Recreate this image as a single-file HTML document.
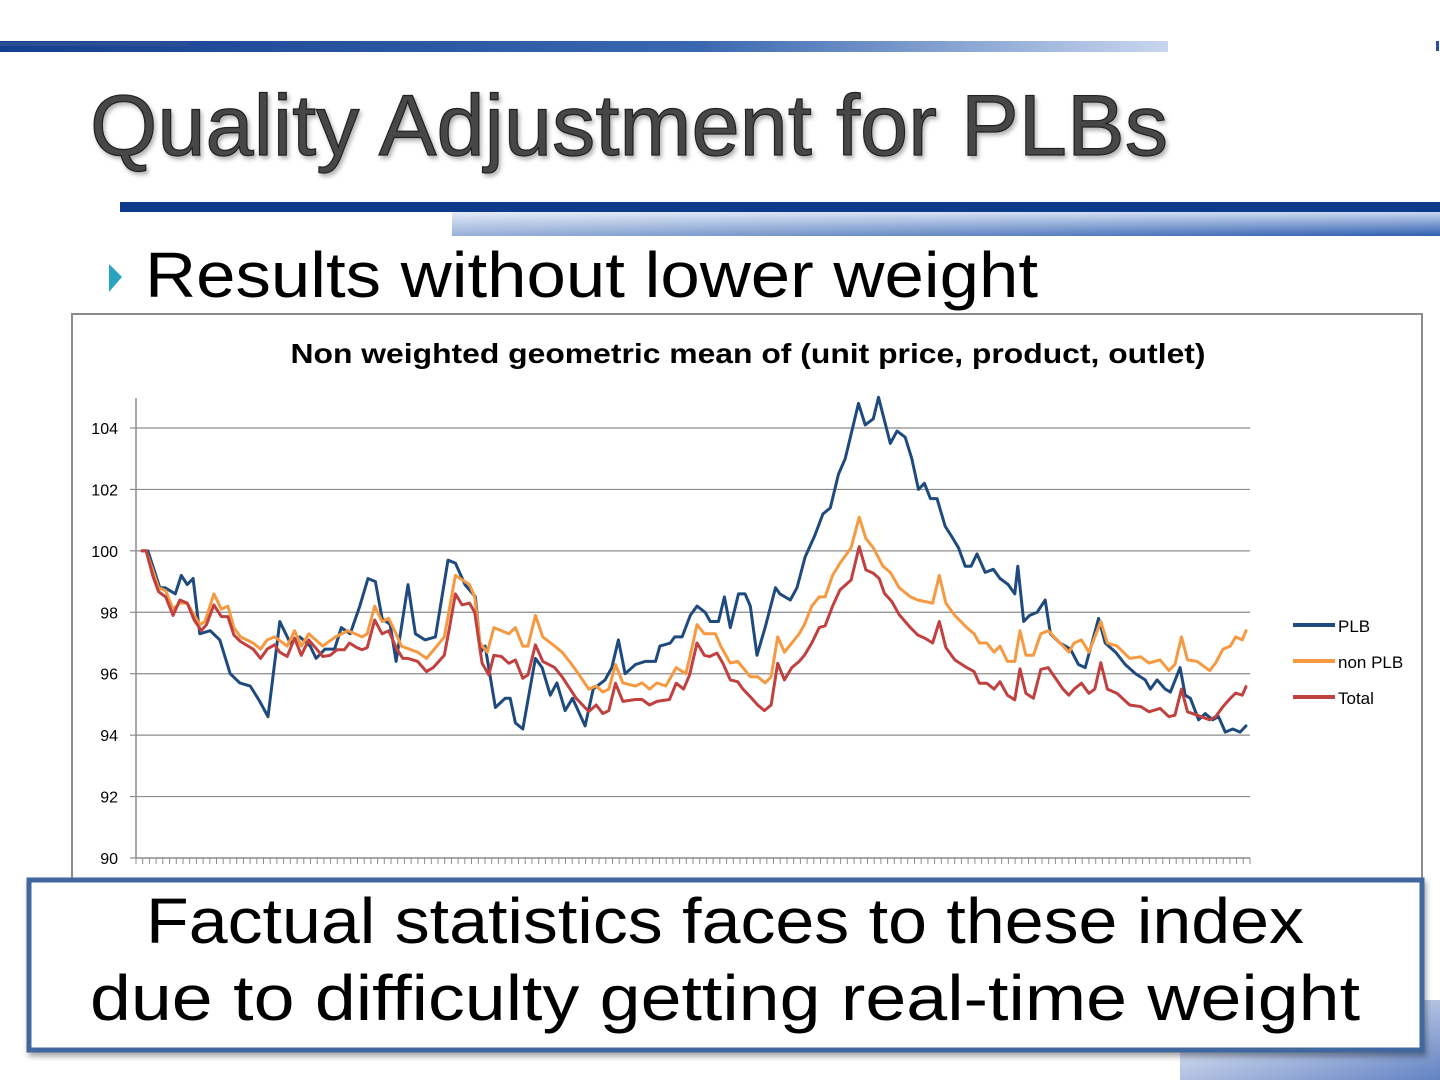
<!DOCTYPE html>
<html><head><meta charset="utf-8"><style>
html,body{margin:0;padding:0;background:#fff;}
svg{display:block;font-family:"Liberation Sans",sans-serif;}
</style></head><body>
<svg id="page" width="1440" height="1080" viewBox="0 0 1440 1080" xmlns="http://www.w3.org/2000/svg">
<defs>
<linearGradient id="topbar" x1="0" y1="0" x2="1" y2="0">
<stop offset="0" stop-color="#143f8e"/><stop offset="0.6" stop-color="#3a68b0"/><stop offset="1" stop-color="#c8d6ee"/></linearGradient>
<linearGradient id="band" x1="0" y1="0" x2="0" y2="1">
<stop offset="0" stop-color="#c9d7ef"/><stop offset="1" stop-color="#2f5fb0"/></linearGradient>
<linearGradient id="bandH" x1="0" y1="0" x2="1" y2="0">
<stop offset="0" stop-color="#ffffff" stop-opacity="0.5"/><stop offset="1" stop-color="#ffffff" stop-opacity="0"/></linearGradient>
<linearGradient id="corner" x1="0" y1="0" x2="1" y2="1">
<stop offset="0" stop-color="#ffffff"/><stop offset="1" stop-color="#3b63b4"/></linearGradient>
<filter id="sh" x="-5%" y="-10%" width="110%" height="130%"><feDropShadow dx="2" dy="4" stdDeviation="3" flood-color="#000" flood-opacity="0.35"/></filter>
<filter id="tsh"><feDropShadow dx="2" dy="3" stdDeviation="2" flood-color="#000" flood-opacity="0.3"/></filter>
</defs>

<rect x="1180" y="1000" width="260" height="80" fill="url(#corner)" opacity="0.8"/>

<rect x="0" y="41" width="1168" height="11" fill="url(#topbar)"/>
<rect x="0" y="42" width="188" height="4" fill="#2a4f94"/>
<rect x="1436" y="41" width="3" height="10" fill="#2a4f94"/>

<text x="90" y="155" font-size="86" fill="#474747" stroke="#222" stroke-width="1.2" textLength="1078" lengthAdjust="spacingAndGlyphs" filter="url(#tsh)">Quality Adjustment for PLBs</text>

<rect x="120" y="202" width="1320" height="10" fill="#0e3a8c"/>
<rect x="452" y="212" width="988" height="24" fill="url(#band)"/>
<rect x="452" y="212" width="988" height="24" fill="url(#bandH)"/>

<polygon points="109,264 122,277 109,292" fill="#2aa3c0"/>
<text x="145" y="297" font-size="64" fill="#000" textLength="893" lengthAdjust="spacingAndGlyphs">Results without lower weight</text>

<rect x="72" y="314" width="1350" height="600" fill="#fff" stroke="#8c8c8c" stroke-width="2"/>
<text x="748" y="363" font-size="28" font-weight="bold" text-anchor="middle" fill="#000" textLength="915" lengthAdjust="spacingAndGlyphs">Non weighted geometric mean of (unit price, product, outlet)</text>
<g id="chart"></g>

<g>
<g><line x1="1293" y1="625" x2="1335" y2="625" stroke="#1f4a7e" stroke-width="4"/><text x="1338" y="632" font-size="17" fill="#000">PLB</text></g>
<g><line x1="1293" y1="661" x2="1335" y2="661" stroke="#f59a42" stroke-width="4"/><text x="1338" y="668" font-size="17" fill="#000">non PLB</text></g>
<g><line x1="1293" y1="697" x2="1335" y2="697" stroke="#c0413f" stroke-width="4"/><text x="1338" y="704" font-size="17" fill="#000">Total</text></g>
</g>

<g filter="url(#sh)">
<rect x="29" y="880" width="1393" height="170" fill="#fff" stroke="#41679f" stroke-width="5"/>
</g>
<text x="725" y="943" font-size="64" text-anchor="middle" fill="#000" textLength="1158" lengthAdjust="spacingAndGlyphs">Factual statistics faces to these index</text>
<text x="725" y="1020" font-size="64" text-anchor="middle" fill="#000" textLength="1270" lengthAdjust="spacingAndGlyphs">due to difficulty getting real-time weight</text>
</svg>
<script>
const yTicks=[90,92,94,96,98,100,102,104];
const tickCount=166;
const plbT=[0,0.8,2.4,3.1,4.5,5.3,6.1,6.9,7.8,9.2,10.5,11.9,13.2,14.6,15.9,17,18.6,20,21.3,22.7,23.5,24.7,26,26.9,28.1,29.4,30.5,31.5,32.4,33.5,34.3,35.9,36.9,38.2,39.6,41.3,42.3,43.6,45,45.7,46.3,47.7,49,49.7,50.4,51.4,53.1,54,55.1,56,57.1,58.1,59.8,60.9,62.5,63.4,64.3,65.2,66.6,67.9,69.3,69.9,71.3,71.9,72.9,74,74.9,76,76.7,77.8,78.6,79.4,80.5,81.4,82.1,83,84.1,85.5,86.1,87.5,88.4,89.5,90.8,91.9,92.9,94,94.9,96.7,97.6,98.7,99.4,101,101.9,103,103.9,104.8,105.6,106.4,107.3,108.4,109.2,110.2,111.1,111.9,112.7,113.8,114.9,115.8,116.9,117.8,118.2,119,119.8,120.8,121.9,122.6,123.9,125.3,126.4,127.3,129.1,130,131.4,132.7,134.1,135.4,136.1,137,138.1,138.8,140.1,140.8,141.5,142.6,143.5,144.5,145.3,146.2,147.2,148.2,149];
const plbV=[100,100,98.8,98.8,98.6,99.2,98.9,99.1,97.3,97.4,97.1,96.0,95.7,95.6,95.1,94.6,97.7,97.0,97.2,96.9,96.5,96.8,96.8,97.5,97.3,98.2,99.1,99.0,97.8,97.6,96.4,98.9,97.3,97.1,97.2,99.7,99.6,98.9,98.5,96.7,96.9,94.9,95.2,95.2,94.4,94.2,96.5,96.2,95.3,95.7,94.8,95.2,94.3,95.5,95.8,96.2,97.1,96.0,96.3,96.4,96.4,96.9,97.0,97.2,97.2,97.9,98.2,98.0,97.7,97.7,98.5,97.5,98.6,98.6,98.2,96.6,97.5,98.8,98.6,98.4,98.8,99.8,100.5,101.2,101.4,102.5,103.0,104.8,104.1,104.3,105.0,103.5,103.9,103.7,103.0,102.0,102.2,101.7,101.7,100.8,100.5,100.1,99.5,99.5,99.9,99.3,99.4,99.1,98.9,98.6,99.5,97.7,97.9,98.0,98.4,97.3,97.0,96.8,96.3,96.2,97.8,97.0,96.7,96.3,96.0,95.8,95.5,95.8,95.5,95.4,96.2,95.3,95.2,94.5,94.7,94.5,94.6,94.1,94.2,94.1,94.3];
const nonT=[0,0.55,2.24,3.2,4.2,5.1,6.1,7.8,8.5,9.7,10.7,11.6,12.4,13.3,15,16,16.9,17.9,19.6,20.6,21.5,22.5,24.4,26.1,27.8,29.7,30.4,31.4,32.4,33.3,34.3,35,37.2,38.4,39.8,40.8,42.3,44.2,44.9,45.6,46.6,47.5,49.5,50.4,51.4,52.1,53.1,54.1,55.7,56.7,57.7,58.6,60.3,61.3,62.2,63,63.9,64.9,66.6,67.5,68.5,69.5,70.7,72.1,73.4,73.9,74.9,75.9,77.4,78.1,79.4,80.4,81.1,82.1,83.1,84.1,84.9,85.8,86.7,87.7,88.7,89.4,90.4,91.4,92.2,93.2,94.2,95.7,96.8,97.7,98.7,100,101,102.2,103.7,104.7,106.7,107.6,108.5,109.7,111.3,112.3,113,114,115,115.8,116.8,117.8,118.5,119.3,120.3,121.3,122.3,124.3,125.1,125.8,126.8,127.8,129.4,130.3,131.6,133.3,134.8,135.9,137.4,138.6,139.4,140.3,141.1,142.4,144.1,144.9,145.9,146.9,147.6,148.5,149];
const nonV=[100,100,98.8,98.7,98.1,98.3,98.3,97.6,97.7,98.6,98.1,98.2,97.5,97.2,97.0,96.8,97.1,97.2,96.9,97.4,96.9,97.3,96.9,97.2,97.4,97.2,97.3,98.2,97.7,97.8,97.3,96.9,96.7,96.5,96.9,97.2,99.2,98.9,98.5,97.0,96.7,97.5,97.3,97.5,96.9,96.9,97.9,97.2,96.9,96.7,96.4,96.1,95.5,95.6,95.4,95.5,96.3,95.7,95.6,95.7,95.5,95.7,95.6,96.2,96.0,96.5,97.6,97.3,97.3,96.9,96.35,96.4,96.2,95.9,95.9,95.7,95.9,97.2,96.7,97.0,97.3,97.6,98.2,98.5,98.5,99.2,99.6,100.1,101.1,100.4,100.1,99.5,99.3,98.8,98.5,98.4,98.3,99.2,98.3,97.9,97.5,97.3,97.0,97.0,96.7,96.9,96.4,96.4,97.4,96.6,96.6,97.3,97.4,96.9,96.7,97.0,97.1,96.7,97.7,97.0,96.9,96.5,96.55,96.35,96.45,96.1,96.3,97.2,96.45,96.4,96.1,96.35,96.8,96.9,97.2,97.1,97.4];
const totT=[0,0.55,1.5,2.24,3.2,4.2,5.1,6.1,7.05,8,8.7,9.7,10.7,11.6,12.4,13.3,15,16,16.9,17.9,18.6,19.6,20.6,21.5,22.5,23.4,24.4,25.4,26.3,27.3,28,29,29.7,30.4,31.4,32.4,33.3,34.3,35.2,35.9,37.2,38.4,39.3,40.8,41.5,42.3,43.2,44.2,44.9,45.9,46.8,47.5,48.5,49.5,50.4,51.4,52.1,53.1,54.1,55.7,56.7,57.7,58.6,60.3,61.3,62.2,63,63.9,64.9,66.6,67.5,68.5,69.5,71.2,72.1,73.1,73.9,74.9,75.9,76.6,77.6,78.4,79.4,80.4,81.1,82.1,83.1,84,84.9,85.8,86.7,87.7,88.7,89.4,90.4,91.4,92.2,93.2,94.2,95.7,96.8,97.7,98.7,99.5,100.2,101.2,102.2,103.7,104.7,105.7,106.7,107.6,108.5,109.7,111.3,112.3,113,114,115,115.8,116.8,117.8,118.5,119.3,120.3,121.3,122.3,124.3,125.1,125.8,126.8,127.8,128.6,129.4,130.3,131.6,133.3,134.8,135.9,137.4,138.6,139.4,140.3,141.1,142.4,144.1,144.9,145.9,146.9,147.6,148.5,149];
const totV=[100,100,99.16,98.67,98.5,97.9,98.4,98.3,97.75,97.4,97.6,98.24,97.86,97.86,97.26,97.05,96.8,96.5,96.8,96.94,96.7,96.56,97.16,96.6,97.1,96.85,96.56,96.6,96.78,96.78,97.0,96.85,96.78,96.85,97.75,97.3,97.4,96.85,96.5,96.5,96.4,96.07,96.2,96.6,97.5,98.6,98.24,98.3,98.0,96.34,95.96,96.6,96.56,96.34,96.45,95.85,95.96,96.94,96.4,96.2,95.9,95.53,95.2,94.77,94.98,94.7,94.8,95.69,95.1,95.16,95.16,94.98,95.1,95.16,95.69,95.5,95.96,97.0,96.6,96.56,96.67,96.34,95.8,95.74,95.5,95.25,94.98,94.8,94.98,96.34,95.8,96.2,96.4,96.6,97.0,97.5,97.56,98.2,98.73,99.05,100.14,99.38,99.27,99.1,98.62,98.35,97.92,97.5,97.26,97.15,97.0,97.7,96.85,96.45,96.2,96.07,95.69,95.69,95.5,95.74,95.3,95.15,96.16,95.36,95.2,96.14,96.2,95.5,95.3,95.5,95.69,95.36,95.5,96.36,95.5,95.36,94.98,94.93,94.76,94.87,94.6,94.65,95.5,94.76,94.65,94.5,94.6,94.93,95.2,95.37,95.3,95.58];

const NS='http://www.w3.org/2000/svg';
const chart=document.getElementById('chart');
const X0=136,X1=1250,Y0=858,Y1=428;
function xScale(t){return 142+(t/149)*(1246-142);}
function yScale(v){return Y0-(v-90)/(104-90)*(Y0-Y1);}
function mk(tag,attrs){const e=document.createElementNS(NS,tag);for(const k in attrs)e.setAttribute(k,attrs[k]);chart.appendChild(e);return e;}

yTicks.forEach(v=>{
  const y=yScale(v);
  if(v>90){const g=mk('line',{x1:X0,y1:y,x2:X1,y2:y,stroke:'#8c8c8c','stroke-width':1.2});
  
  }
  const tk=mk('line',{x1:X0-6,y1:y,x2:X0,y2:y,stroke:'#8c8c8c','stroke-width':1.2});
  
  
  const t=mk('text',{x:118,y:y+6,'font-size':16,'text-anchor':'end',fill:'#000'});
  
  
  t.textContent=String(v);
});
const ya=mk('line',{x1:X0,y1:398,x2:X0,y2:Y0,stroke:'#8c8c8c','stroke-width':1.5});


const xa=mk('line',{x1:X0,y1:Y0,x2:X1,y2:Y0,stroke:'#8c8c8c','stroke-width':1.5});


let d='';
for(let i=0;i<=tickCount;i++){const x=X0+i*(X1-X0)/tickCount;d+='M'+x.toFixed(1)+' '+Y0+'V'+(Y0+6);}
const tks=mk('path',{d:d,stroke:'#8c8c8c','stroke-width':1,fill:'none'});



function series(ts,vs,color,name){
  const pts=ts.map((t,i)=>xScale(t).toFixed(1)+','+yScale(vs[i]).toFixed(1)).join(' ');
  const p=mk('polyline',{points:pts,fill:'none',stroke:color,'stroke-width':3,'stroke-linejoin':'round','stroke-linecap':'round'});
  
  
}
series(plbT,plbV,'#1f4a7e','series-plb');
series(nonT,nonV,'#f59a42','series-non-plb');
series(totT,totV,'#c0413f','series-total');
</script>
</body></html>
